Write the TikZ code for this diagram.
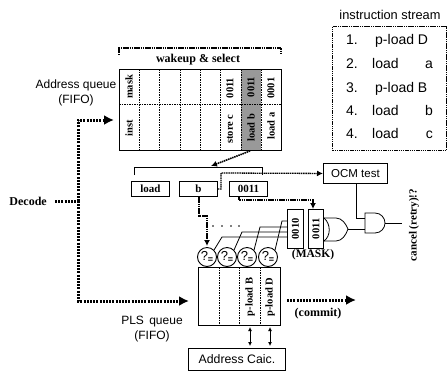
\documentclass[tikz,border=0pt]{standalone}
\usepackage{fontspec}
\newfontfamily\hv{Liberation Sans}
\setmainfont{Liberation Serif}
\usetikzlibrary{arrows.meta}
\tikzset{
  x=1pt,y=-1pt,
  box/.style={draw,line width=0.9pt,inner sep=0pt,anchor=north west},
  sans/.style={font=\hv\fontsize{12}{14.5}\selectfont,inner sep=0pt,align=center},
  row/.style={font=\hv\fontsize{14}{14}\selectfont,inner sep=0pt},
  ser/.style={font=\bfseries\fontsize{11}{12}\selectfont,inner sep=0pt},
  rot/.style={ser,font=\bfseries\fontsize{10.5}{12}\selectfont,rotate=90},
  tbl/.style={draw,line width=1pt},
  div/.style={line width=0.7pt,dash pattern=on 1.5pt off 1pt},
  fat/.style={line width=3pt,dash pattern=on 2pt off 1.2pt},
  med/.style={line width=1.3pt,dash pattern=on 1.5pt off 0.7pt},
  fathead/.style={-{Latex[length=10pt,width=10pt]}},
  medhead/.style={-{Latex[length=6pt,width=6pt]}},
  wire/.style={line width=0.8pt},
  cmp/.style={circle,draw,line width=0.9pt,minimum size=19pt,inner sep=0pt},
  dbl/.style={wire,{Latex[length=4pt,width=4pt]}-{Latex[length=4pt,width=4pt]}},
}
\newcommand{\qeq}{{\hv\fontsize{13}{13}\selectfont ?\raisebox{-2.5pt}{\fontsize{9}{9}\selectfont\bfseries =}}}
\begin{document}
\begin{tikzpicture}
\useasboundingbox (0,0) rectangle (447,373);
% instruction stream
\node[sans,font=\hv\fontsize{12.8}{14}\selectfont] (title) at (390,15) {instruction stream};
\node[box,med,minimum width=114pt,minimum height=124pt,line width=1pt] (stream) at (332,26) {};
\node[row,anchor=base] (n1) at (352,44) {1.};
\node[row,anchor=base] (n2) at (352,68) {2.};
\node[row,anchor=base] (n3) at (352,92) {3.};
\node[row,anchor=base] (n4) at (352,115) {4.};
\node[row,anchor=base] (n5) at (352,138) {4.};
\node[row,anchor=base west] (i1) at (375,44) {p-load D};
\node[row,anchor=base west] (i2) at (372,68) {load};
\node[row,anchor=base east] (i2b) at (433,68) {a};
\node[row,anchor=base west] (i3) at (375,92) {p-load B};
\node[row,anchor=base west] (i4) at (372,115) {load};
\node[row,anchor=base east] (i4b) at (433,115) {b};
\node[row,anchor=base west] (i5) at (372,138) {load};
\node[row,anchor=base east] (i5b) at (433,138) {c};
% address queue
\fill[black!40] (241,69) rectangle (261,150);
\draw[tbl] (119,69) rectangle (281,150);
\foreach \x in {139,159,180,200,220,241,261} \draw[div] (\x,69) -- (\x,150);
\draw[div] (119,104) -- (281,104);
\draw[med] (119,55) -- (119,48) -- (281,48) -- (281,55);
\node[ser,font=\bfseries\fontsize{12}{12}\selectfont] (ws) at (198,60) {wakeup \& select};
\node[rot] (m) at (129,87) {mask};
\node[rot] (in) at (129,128) {inst};
\node[rot] (c1) at (230,129) {store c};
\node[rot] (c2) at (230,88) {0011};
\node[rot] (d1) at (251,128) {load b};
\node[rot] (d2) at (251,87) {0011};
\node[rot] (e1) at (271,126) {load a};
\node[rot] (e2) at (271,88) {0001};
\node[sans] (aq) at (76,93) {Address queue\\(FIFO)};
% decode
\node[ser,font=\bfseries\fontsize{12}{12}\selectfont,anchor=east] (dec) at (47,201) {Decode};
\coordinate (j1) at (78,120);
\coordinate (j2) at (78,301);
\coordinate (decj) at (78,201);
\coordinate (aqin) at (114,120);
\coordinate (plsin) at (189,301);
\draw[fat] (55,201) -- (decj);
\draw[fat,fathead] (decj) -- (j1) -- (aqin);
\draw[fat,fathead] (decj) -- (j2) -- (plsin);
% fields
\node[box,minimum width=38pt,minimum height=15pt] (fl) at (131,181) {};
\node[ser] at (fl.center) {load};
\node[box,minimum width=38pt,minimum height=15pt] (fb) at (179,181) {};
\node[ser] at (fb.center) {b};
\node[box,minimum width=38pt,minimum height=15pt] (fm) at (229,181) {};
\node[ser] at (fm.center) {0011};
\draw[wire] (134,175) -- (134,167) -- (262,167) -- (262,175);
\draw[med,line width=1.6pt,medhead] (250,151) -- (211,166);
% OCM
\node[box,minimum width=64pt,minimum height=20pt] (ocm) at (323,163) {};
\node[sans,font=\hv\fontsize{11.5}{14}\selectfont] at (ocm.center) {OCM test};
\draw[med,medhead] (fb.east) -- (221,189) -- (221,173) -- (ocm.west);
\draw[med,medhead] (239,196) -- (239,200) -- (313,200) -- (313,209);
\draw[med,medhead] (199,197) -- (199,216) -- (207,216) -- (207,246);
% mask
\node[box,minimum width=16pt,minimum height=39pt] (m1) at (287,209) {};
\node[rot] at (m1.center) {0010};
\node[box,minimum width=15pt,minimum height=39pt] (m2) at (308,209) {};
\node[rot] at (m2.center) {0011};
\node[ser,font=\bfseries\fontsize{11.5}{12}\selectfont] (mk) at (313,255) {(MASK)};
% gates
\draw[wire] (324,218) .. controls (331,224) and (331,236) .. (324,241);
\draw[wire] (324,218) -- (336,218) .. controls (342,218) and (346,224) .. (348,229) .. controls (346,235) and (342,241) .. (336,241) -- (324,241);
\coordinate (orout) at (348,229);
\coordinate (andb) at (365,229);
\coordinate (anda) at (365,218);
\coordinate (andout) at (385,223);
\coordinate (ocmb) at (356,183);
\coordinate (ocmc) at (356,218);
\draw[wire] (365,213) -- (375,213) .. controls (381,213) and (385,218) .. (385,223) .. controls (385,228) and (381,233) .. (375,233) -- (365,233) -- cycle;
\draw[wire] (orout) -- (andb);
\draw[wire] (ocmb) -- (ocmc) -- (anda);
\coordinate (cx) at (402,223);
\draw[wire] (andout) -- (cx);
\node[rot,font=\bfseries\fontsize{11}{12}\selectfont] (can) at (414,225) {cancel (retry)!?};
% comparators
\foreach \n/\x in {a/207,b/227,c/247,d/268}{
  \node[cmp] (\n) at (\x,257) {\qeq};
}
\draw[wire] (a.north east) -- (222,237) -- (287,237);
\draw[wire] (b.north east) -- (242,232) -- (287,232);
\draw[wire] (c.north east) -- (260,227) -- (287,227);
\draw[wire] (d.north east) -- (282,221) -- (287,221);
\foreach \x in {213,222,231,239} \fill (\x,226) circle (0.8);
% PLS queue
\draw[tbl] (198,267) rectangle (280,325);
\foreach \x in {219,239,260} \draw[div] (\x,267) -- (\x,325);
\node[rot] (p1) at (250,297) {p-load B};
\node[rot] (p2) at (270,297) {p-load D};
\node[sans] (pq) at (152,329) {PLS\, queue\\(FIFO)};
\coordinate (cs) at (287,300);
\coordinate (ce) at (356,300);
\draw[fat,fathead] (cs) -- (ce);
\node[ser,font=\bfseries\fontsize{12}{12}\selectfont] (cm) at (318,314) {(commit)};
% address calc
\node[box,minimum width=97pt,minimum height=22pt] (ac) at (188,348) {};
\node[sans,font=\hv\fontsize{12.3}{14}\selectfont] at (ac.center) {Address Caic.};
\draw[dbl] (250,327) -- (250,346);
\draw[dbl] (270,327) -- (270,346);
\end{tikzpicture}
\end{document}
